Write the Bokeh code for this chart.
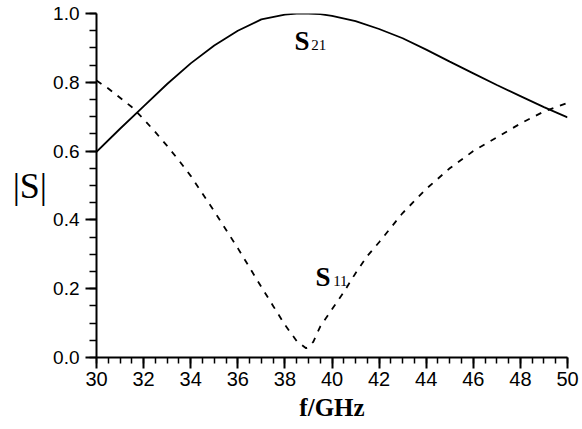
import numpy as np
from bokeh.plotting import figure
from bokeh.models import FixedTicker
from bokeh.core.properties import value
from bokeh.embed import file_html
from bokeh.resources import INLINE

# Data
freq_s21 = [30, 31, 32, 33, 34, 35, 36, 37, 38, 38.5, 39, 39.5, 40, 41, 42, 43, 44, 45, 46, 47, 48, 49, 50]
s21 = [0.598, 0.665, 0.73, 0.795, 0.855, 0.907, 0.95, 0.983, 0.997, 1.0, 1.0, 0.998, 0.993, 0.978,
       0.955, 0.928, 0.895, 0.86, 0.826, 0.792, 0.76, 0.728, 0.698]

freq_s11 = [30, 30.5, 31, 31.5, 32, 32.5, 33, 33.5, 34, 35, 36, 37, 37.5, 38, 38.5, 38.9, 39.2,
            39.5, 40, 40.5, 41, 41.5, 42, 43, 44, 45, 46, 47, 48, 49, 50]
s11 = [0.805, 0.782, 0.755, 0.728, 0.693, 0.655, 0.615, 0.573, 0.528, 0.425, 0.318, 0.205, 0.15,
       0.095, 0.048, 0.027, 0.045, 0.09, 0.14, 0.19, 0.245, 0.295, 0.335, 0.42, 0.49, 0.55, 0.60,
       0.64, 0.68, 0.715, 0.74]

x_ticks = [30, 32, 34, 36, 38, 40, 42, 44, 46, 48, 50]
x_tick_labels = ["30", "32", "34", "36", "38", "40", "42", "44", "46", "48", "50"]
y_ticks = [0.0, 0.2, 0.4, 0.6, 0.8, 1.0]
y_tick_labels = ["0.0", "0.2", "0.4", "0.6", "0.8", "1.0"]

p = figure(frame_width=471, frame_height=344, x_range=(30, 50), y_range=(0, 1.0),
           output_backend="svg", toolbar_location=None,
           min_border_left=96, min_border_right=15, min_border_top=13, min_border_bottom=72)
p.outline_line_color = None
p.grid.visible = False
p.background_fill_color = "white"
p.border_fill_color = "white"

p.line(freq_s21, s21, line_color="black", line_width=1.8)
p.line(freq_s11, s11, line_color="black", line_width=1.8, line_dash="6 7")

# curve labels
serif = value("Liberation Serif")
p.text(x=[38.41], y=[0.9215], text=["S"], text_font=serif, text_font_style="bold",
       text_font_size="27px", text_baseline="alphabetic", text_align="left", text_color="black")
p.text(x=[39.12], y=[0.908], text=["21"], text_font=serif,
       text_font_size="15px", text_baseline="alphabetic", text_align="left", text_color="black")
p.text(x=[39.30], y=[0.2326], text=["S"], text_font=serif, text_font_style="bold",
       text_font_size="27px", text_baseline="alphabetic", text_align="left", text_color="black")
p.text(x=[40.05], y=[0.222], text=["11"], text_font=serif,
       text_font_size="15px", text_baseline="alphabetic", text_align="left", text_color="black")

# x axis
xminor = list(np.arange(30, 50.001, 0.5))
p.xaxis.ticker = FixedTicker(ticks=x_ticks, minor_ticks=xminor)
p.xaxis.major_label_overrides = {t: l for t, l in zip(x_ticks, x_tick_labels)}
p.xaxis.axis_line_width = 2
p.xaxis.major_tick_line_width = 2
p.xaxis.minor_tick_line_width = 1.5
p.xaxis.major_tick_out = 11
p.xaxis.major_tick_in = 0
p.xaxis.minor_tick_out = 6
p.xaxis.minor_tick_in = 0
p.xaxis.major_label_text_font = "Liberation Sans"
p.xaxis.major_label_text_font_size = "20px"
p.xaxis.major_label_text_color = "black"
p.xaxis.major_label_standoff = 3
p.xaxis.axis_label = "f/GHz"
p.xaxis.axis_label_text_font = "Liberation Serif"
p.xaxis.axis_label_text_font_style = "bold"
p.xaxis.axis_label_text_font_size = "25px"
p.xaxis.axis_label_text_color = "black"
p.xaxis.axis_label_standoff = 5

# y axis
yminor = list(np.arange(0, 1.0001, 0.05))
p.yaxis.ticker = FixedTicker(ticks=y_ticks, minor_ticks=yminor)
p.yaxis.major_label_overrides = {t: l for t, l in zip(y_ticks, y_tick_labels)}
p.yaxis.axis_line_width = 2
p.yaxis.major_tick_line_width = 2
p.yaxis.minor_tick_line_width = 1.5
p.yaxis.major_tick_out = 11
p.yaxis.major_tick_in = 0
p.yaxis.minor_tick_out = 7
p.yaxis.minor_tick_in = 0
p.yaxis.major_label_text_font = "Liberation Sans"
p.yaxis.major_label_text_font_size = "19px"
p.yaxis.major_label_text_color = "black"
p.yaxis.major_label_standoff = 6
p.yaxis.axis_label = "|S|"
p.yaxis.axis_label_orientation = "horizontal"
p.yaxis.axis_label_text_font = "Liberation Serif"
p.yaxis.axis_label_text_font_style = "normal"
p.yaxis.axis_label_text_font_size = "36px"
p.yaxis.axis_label_text_color = "black"
p.yaxis.axis_label_standoff = 3

open("out.html", "w").write(file_html(p, INLINE))
